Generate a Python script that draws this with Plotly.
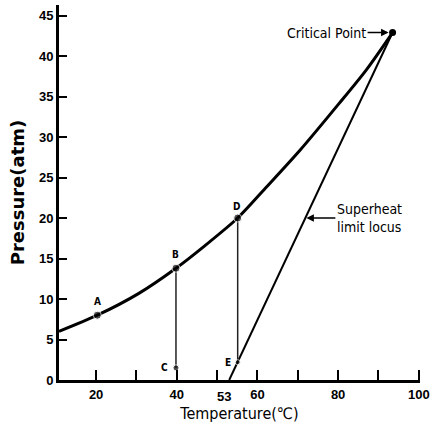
import plotly.graph_objects as go

# Vapour-pressure curve (Temperature °C, Pressure atm)
curve_T = [10.8, 20.3, 30.6, 39.8, 47.0, 55.1, 62.0, 70.6, 80.0, 87.0, 93.5]
curve_P = [6.0, 8.0, 10.7, 13.8, 16.6, 20.0, 23.7, 28.4, 34.0, 38.3, 42.9]

# Superheat limit locus
superheat_T = [53.0, 93.5]
superheat_P = [0.0, 42.9]

# Labelled state points
point_names = ["A", "B", "C", "D", "E"]
point_T = [20.3, 39.8, 39.8, 55.1, 55.1]
point_P = [8.0, 13.8, 1.5, 20.0, 2.2]

critical_T = [93.5]
critical_P = [42.9]

x_tickvals = [20, 30, 40, 50, 60, 70, 80, 90, 100]
x_ticktext = ["20", "", "40", "", "60", "", "80", "", "100"]
extra_x_label = "53"
extra_x_label_pos = 51.6
y_tickvals = [0, 5, 10, 15, 20, 25, 30, 35, 40, 45]

FONT = "DejaVu Sans Condensed, Liberation Sans, sans-serif"
TICKFONT = "Liberation Sans, Arial, sans-serif"

fig = go.Figure()

fig.add_trace(go.Scatter(x=curve_T, y=curve_P, mode="lines",
                         line=dict(color="black", width=3, shape="spline", smoothing=0.8),
                         hoverinfo="skip", showlegend=False))
fig.add_trace(go.Scatter(x=superheat_T, y=superheat_P, mode="lines",
                         line=dict(color="black", width=2),
                         hoverinfo="skip", showlegend=False))
# vertical lines B->C and D->E
fig.add_trace(go.Scatter(x=[point_T[1], point_T[2]], y=[point_P[1], point_P[2]], mode="lines",
                         line=dict(color="#222", width=1.5), showlegend=False))
fig.add_trace(go.Scatter(x=[point_T[3], point_T[4]], y=[point_P[3], point_P[4]], mode="lines",
                         line=dict(color="#222", width=1.5), showlegend=False))
# markers
fig.add_trace(go.Scatter(x=point_T, y=point_P, mode="markers",
                         marker=dict(color="black", size=[8, 8, 6, 8, 5]),
                         showlegend=False))
fig.add_trace(go.Scatter(x=critical_T, y=critical_P, mode="markers",
                         marker=dict(color="black", size=7), showlegend=False))

shifts = {"A": (0, 14), "B": (0, 14), "C": (-11, 0), "D": (-1, 12), "E": (-10, 0)}
for n, t, p in zip(point_names, point_T, point_P):
    dx, dy = shifts[n]
    fig.add_annotation(x=t, y=p, text=n, showarrow=False, xshift=dx, yshift=dy,
                       font=dict(family=FONT, size=10, color="black", weight="bold"))

fig.add_annotation(x=critical_T[0], y=critical_P[0], text="Critical Point",
                   showarrow=True, ax=-66, ay=0, arrowhead=2, arrowsize=1, arrowwidth=1.5,
                   arrowcolor="black", standoff=4,
                   font=dict(family=FONT, size=14, color="black"))

# superheat limit locus label with arrow pointing to the line
sh_label_P = 20.0
sh_label_T = superheat_T[0] + (superheat_T[1] - superheat_T[0]) * sh_label_P / superheat_P[1]
fig.add_annotation(x=sh_label_T, y=sh_label_P, text="Superheat<br>limit locus",
                   showarrow=True, ax=64, ay=0, arrowhead=2, arrowsize=1, arrowwidth=1.5,
                   arrowcolor="black", standoff=1, align="left",
                   font=dict(family=FONT, size=14, color="black"))

fig.add_annotation(x=extra_x_label_pos, y=0, yref="paper", text=extra_x_label, showarrow=False,
                   yanchor="top", yshift=-7,
                   font=dict(family=TICKFONT, size=13, color="black", weight="bold"))

fig.update_layout(
    width=435, height=434,
    margin=dict(l=59, r=12, t=5, b=54),
    paper_bgcolor="white", plot_bgcolor="white",
    font=dict(family=FONT, color="black"),
    xaxis=dict(range=[10.8, 100.3], tickvals=x_tickvals, ticktext=x_ticktext,
               ticks="inside", ticklen=10, tickwidth=2, tickcolor="black",
               showline=True, linewidth=3, linecolor="black", showgrid=False, zeroline=False,
               tickfont=dict(family=TICKFONT, size=13, weight="bold"),
               title=dict(text="Temperature(℃)", standoff=8,
                          font=dict(family=FONT, size=16))),
    yaxis=dict(range=[0, 46.3], tickvals=y_tickvals,
               ticks="inside", ticklen=8, tickwidth=2, tickcolor="black",
               showline=True, linewidth=3, linecolor="black", showgrid=False, zeroline=False,
               tickfont=dict(family=TICKFONT, size=13, weight="bold"),
               title=dict(text="Pressure(atm)", standoff=10,
                          font=dict(family="DejaVu Sans, sans-serif", size=18, weight="bold"))),
)

fig.write_html("out.html", post_script="document.body.style.margin='0';",
               config={"displayModeBar": False})
